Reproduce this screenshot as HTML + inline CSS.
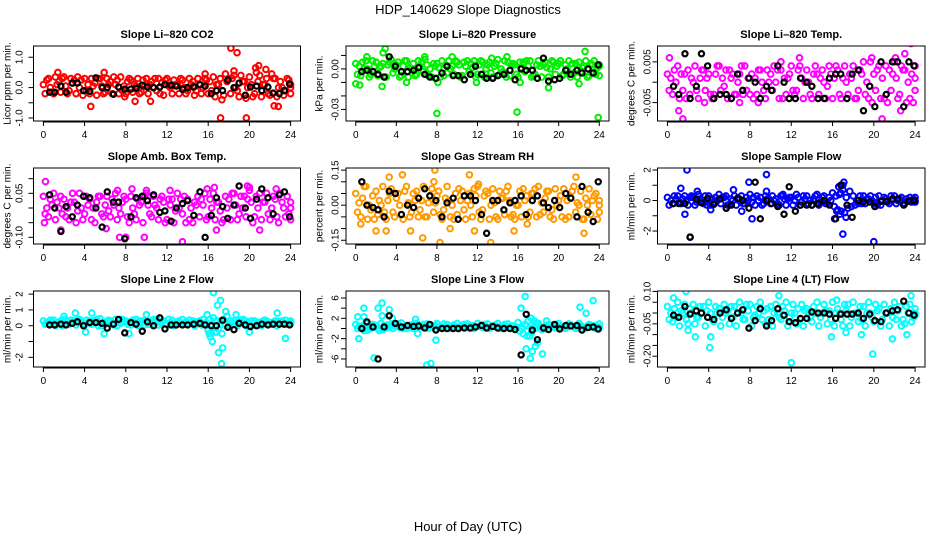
<!DOCTYPE html>
<html><head><meta charset="utf-8"><style>
html,body{margin:0;padding:0;background:#fff;}
svg{display:block;font-family:"Liberation Sans",Arial,sans-serif;}
</style></head><body>
<svg id="chart" width="936" height="540" viewBox="0 0 936 540">
<rect x="0" y="0" width="936" height="540" fill="#fff"/>
<text x="468" y="14" text-anchor="middle" font-size="13">HDP_140629  Slope Diagnostics</text>
<text x="468" y="531" text-anchor="middle" font-size="13">Hour of Day (UTC)</text>
</svg>
<script>
const HOURS = [0,0.5,1,1.5,2,2.5,3,3.5,4,4.5,5,5.5,6,6.5,7,7.5,8,8.5,9,9.5,10,10.5,11,11.5,12,12.5,13,13.5,14,14.5,15,15.5,16,16.5,17,17.5,18,18.5,19,19.5,20,20.5,21,21.5,22,22.5,23,23.5,24];
const BLACK_HOURS = [0.6,1.1,1.7,2.2,2.8,3.3,3.9,4.5,5.1,5.7,6.2,6.8,7.3,7.9,8.5,9.0,9.6,10.1,10.7,11.3,11.8,12.4,12.9,13.5,14.0,14.6,15.2,15.7,16.3,16.8,17.4,17.9,18.5,19.0,19.6,20.1,20.7,21.2,21.8,22.3,22.9,23.4,23.9];
const X_TICKS = [0,4,8,12,16,20,24];

// Panel 1: CO2
const co2A = [0.1,0.3,-0.2,0.2,0.35,-0.1,0.25,0.0,0.3,-0.2,0.15,0.3,-0.15,0.2,0.1,0.35,-0.2,0.25,0.05,-0.15,0.3,0.2,-0.1,0.15,0.3,-0.2,0.1,0.25,-0.1,0.2,0.3,0.0,-0.2,0.35,0.1,-0.25,0.3,0.4,-0.3,0.2,0.35,-0.2,0.4,0.1,-0.25,0.3,0.2,-0.1,0.1];
const co2B = [-0.2,0.0,0.35,-0.15,0.05,0.3,-0.2,0.25,-0.1,0.3,-0.25,0.05,0.3,-0.2,0.25,-0.1,0.2,-0.15,0.3,0.25,-0.2,0.0,0.3,-0.25,0.05,0.25,-0.2,0.0,0.3,-0.25,0.1,0.3,0.2,-0.3,0.3,0.45,-0.2,0.0,0.4,-0.35,0.1,0.5,-0.3,0.3,0.45,-0.3,0.0,0.3,-0.2];
const co2C = [0.25,-0.15,0.1,0.3,-0.2,0.15,0.35,-0.25,0.1,0.05,0.3,-0.2,0.1,0.35,-0.2,0.05,0.3,0.1,-0.2,0.05,0.1,0.3,-0.2,0.25,0.0,0.1,0.3,-0.2,0.1,-0.1,-0.2,0.25,-0.1,0.1,-0.4,0.2,0.3,-0.1,0.2,0.0,-0.3,0.2,0.1,-0.2,0.3,0.0,-0.25,0.25,0.0];
const co2OutH = [18.2,18.8,17.2,19.7,4.6,22.4,22.8,20.6,20.9,21.6,1.4,5.9,10.4,8.9,15.7,18.5,7.9];
const co2OutV = [1.3,1.15,-1.0,-1.0,-0.62,-0.6,-0.62,0.65,0.72,0.6,0.5,0.5,-0.45,-0.45,0.45,0.55,-0.3];
const co2Black = [-0.15,-0.15,0.05,-0.15,0.15,0.15,-0.1,-0.12,0.32,0.0,0.0,-0.22,0.02,-0.05,-0.05,-0.02,0.08,0.02,0.0,0.02,0.1,0.08,0.05,-0.05,0.0,0.02,0.1,0.05,-0.2,-0.1,-0.1,0.25,0.0,0.15,-0.25,0.02,0.05,-0.1,0.02,-0.18,-0.2,-0.1,0.12];
const co2Ticks = [-1,-0.5,0,0.5,1];
const co2TickLabels = ["-1.0","","0.0","","1.0"];

// Panel 2: Pressure
const presA = [0.004,-0.005,0.006,-0.004,0.005,0.002,-0.006,0.007,0.003,-0.005,0.006,0.0,-0.004,0.005,0.003,-0.006,0.004,0.006,-0.003,0.002,0.005,-0.005,0.006,0.001,-0.004,0.005,0.003,-0.006,0.007,-0.002,0.005,0.004,-0.006,0.005,0.002,-0.005,0.006,0.003,-0.006,0.005,0.004,-0.004,0.006,-0.003,0.005,0.002,-0.005,0.006,0.003];
const presB = [-0.004,0.005,0.0,0.006,-0.005,0.004,0.003,-0.003,0.005,0.002,-0.006,0.004,0.006,-0.002,-0.005,0.004,0.001,-0.005,0.006,-0.004,0.003,0.005,-0.002,0.006,0.003,-0.006,0.005,0.002,-0.004,0.006,-0.005,0.003,0.005,-0.002,0.006,-0.004,0.002,0.005,0.0,-0.004,0.006,0.003,-0.006,0.004,-0.002,0.006,0.004,-0.004,0.002];
const presC = [0.002,0.0,-0.006,0.002,0.001,-0.006,0.005,0.0,-0.006,0.006,0.001,-0.005,0.002,0.007,0.0,0.002,-0.006,0.003,0.0,0.006,-0.006,0.002,0.004,-0.006,0.006,0.0,-0.003,0.004,0.0,-0.006,0.003,-0.004,0.001,0.006,-0.006,0.003,-0.006,0.001,0.006,0.002,-0.005,0.0,0.004,-0.006,0.001,-0.006,0.003,0.001,-0.005];
const presOutH = [8.0,15.9,23.9,2.9,2.7,22.6,0.0,0.4,2.6,19.0,11.9,5.0,8.1,16.2,22.0,1.1,9.5,13.4,14.9,6.8];
const presOutV = [-0.033,-0.032,-0.036,0.015,0.012,0.013,-0.011,-0.012,-0.013,-0.014,-0.01,-0.01,-0.01,-0.01,-0.011,0.009,0.009,0.008,0.009,0.009];
const presBlack = [-0.002,-0.001,-0.002,-0.004,-0.006,0.009,0.002,-0.002,-0.002,-0.001,0.001,-0.004,-0.006,-0.007,-0.003,0.002,-0.005,-0.005,-0.008,-0.004,0.002,-0.004,-0.007,-0.007,-0.005,-0.004,-0.001,-0.008,0.0,-0.001,-0.001,-0.007,0.008,-0.009,-0.008,-0.007,-0.001,-0.004,-0.001,-0.003,0.0,-0.003,0.003];
const presTicks = [-0.03,-0.02,-0.01,0,0.01];
const presTickLabels = ["-0.03","","","0.00",""];

// Panel 3: Li-820 Temp
const tempA = [0.002,-0.003,0.004,-0.002,0.003,0.0,-0.004,0.003,0.002,-0.003,0.004,-0.001,0.003,-0.003,0.002,0.004,-0.003,0.001,0.003,-0.004,0.002,0.0,0.003,-0.003,0.004,-0.002,0.001,0.003,-0.004,0.002,0.003,-0.001,-0.004,0.003,0.001,-0.003,0.004,-0.002,0.005,-0.004,0.002,0.004,-0.004,0.003,0.005,-0.003,0.003,-0.004,0.004];
const tempB = [-0.002,0.003,-0.004,0.002,-0.003,0.004,0.001,-0.002,-0.003,0.002,-0.002,0.003,0.001,-0.003,0.004,-0.002,0.002,-0.003,0.0,0.003,-0.002,0.003,-0.004,0.001,-0.002,0.003,-0.004,0.0,0.002,-0.003,0.0,0.004,0.001,-0.003,0.004,0.002,-0.004,0.003,-0.003,0.005,-0.002,-0.004,0.004,-0.002,0.001,0.004,-0.005,0.002,-0.002];
const tempC = [0.001,0.0,0.002,-0.004,0.001,-0.002,0.003,0.001,-0.004,0.004,0.001,-0.004,0.002,0.0,-0.003,0.001,-0.004,0.003,-0.002,0.0,0.004,-0.004,0.001,0.002,-0.003,0.004,0.0,-0.003,0.004,0.001,-0.004,0.002,0.004,-0.004,0.0,0.001,-0.004,0.002,0.0,-0.005,0.003,0.001,-0.005,0.002,-0.004,0.003,0.0,-0.005,0.001];
const tempOutH = [0.2,1.1,1.5,23.6,23.5,20.8,22.1,23.0,12.8,7.0,3.6,8.8,22.6,19.8,11.0];
const tempOutV = [0.006,-0.007,-0.009,0.0095,-0.0115,-0.009,0.006,0.007,0.006,-0.005,-0.005,-0.005,-0.007,0.006,0.005];
const tempBlack = [-0.001,-0.003,0.007,-0.004,-0.001,0.007,0.004,-0.004,-0.003,-0.003,-0.004,0.002,-0.002,0.001,0.0,-0.004,-0.001,-0.002,0.004,0.0,-0.004,-0.004,0.001,0.0,-0.001,-0.004,-0.004,0.001,0.002,0.002,-0.004,0.002,0.003,-0.007,-0.001,-0.006,0.005,-0.003,0.005,0.005,-0.006,0.005,0.004];
const tempTicks = [-0.005,0,0.005];
const tempTickLabels = ["-0.005","","0.005"];

// Panel 4: Amb. Box Temp
const ambA = [0.04,-0.03,0.05,0.0,0.03,-0.04,0.02,0.05,-0.02,0.03,-0.05,0.04,0.01,-0.03,0.05,-0.02,0.03,0.04,-0.04,0.02,0.05,-0.03,0.0,0.04,-0.04,0.03,0.05,-0.02,0.03,-0.05,0.04,0.01,-0.03,0.05,0.02,-0.04,0.03,0.05,-0.02,0.04,0.06,-0.03,0.05,0.02,-0.04,0.03,0.05,-0.03,0.02];
const ambB = [-0.02,0.03,-0.04,0.04,-0.03,0.02,-0.05,0.0,0.04,-0.04,0.02,-0.02,0.04,0.03,-0.04,0.02,-0.03,0.0,0.03,-0.05,0.01,0.04,-0.04,0.02,0.03,-0.05,0.0,0.04,-0.04,0.02,-0.03,0.05,0.03,-0.04,-0.01,0.04,-0.04,0.01,0.04,-0.03,0.02,0.04,-0.04,0.05,0.0,-0.03,0.02,0.04,-0.04];
const ambC = [0.0,0.01,0.02,-0.02,0.0,0.05,-0.01,-0.04,0.01,0.0,0.04,-0.03,-0.01,0.01,0.0,0.04,-0.05,-0.02,0.01,0.04,-0.02,0.01,0.03,-0.05,0.01,-0.01,0.03,-0.05,0.0,0.01,0.03,-0.04,0.0,0.02,-0.05,0.0,0.05,-0.04,0.0,0.03,-0.05,0.0,0.02,-0.02,0.04,-0.05,0.0,-0.02,0.0];
const ambOutH = [0.2,13.5,1.7,6.1,7.4,8.0,9.8,16.8,21.0,0.1,19.8,20.0,22.6,8.6,15.9,16.6,12.3,7.2,10.0];
const ambOutV = [0.09,-0.115,-0.075,-0.07,-0.1,-0.1,-0.1,-0.075,-0.075,-0.05,0.075,0.07,0.065,0.065,0.065,0.07,0.06,0.06,0.06];
const ambBlack = [0.045,0.0,-0.08,0.005,-0.03,0.01,0.04,0.035,0.0,-0.065,0.055,0.02,0.02,-0.105,-0.03,0.035,0.04,0.025,0.045,-0.015,-0.01,-0.045,0.0,0.015,0.025,-0.025,0.055,-0.1,-0.025,0.035,0.005,-0.035,0.01,0.075,0.0,-0.035,0.03,0.065,0.035,-0.02,0.045,0.055,-0.03];
const ambTicks = [-0.10,-0.05,0,0.05,0.10];
const ambTickLabels = ["-0.10","","","0.05",""];

// Panel 5: Gas Stream RH
const rhA = [0.05,-0.05,0.08,-0.02,0.06,0.0,-0.06,0.07,0.03,-0.04,0.08,-0.03,0.06,0.02,-0.05,0.07,0.04,-0.06,0.08,0.0,-0.04,0.06,0.02,-0.05,0.08,-0.02,0.05,0.07,-0.06,0.03,0.08,-0.04,0.0,0.07,-0.05,0.05,0.08,-0.03,0.06,-0.06,0.02,0.07,-0.05,0.08,0.0,-0.06,0.07,0.04,-0.03];
const rhB = [-0.03,0.03,-0.06,0.04,-0.04,0.08,0.02,-0.03,0.05,-0.06,0.01,0.05,-0.05,0.08,0.01,-0.03,0.06,-0.02,0.02,-0.06,0.07,-0.02,0.05,0.07,-0.03,0.04,-0.06,0.01,0.06,-0.04,0.02,-0.06,0.06,0.02,-0.03,0.07,-0.04,0.03,-0.05,0.07,0.04,-0.06,0.03,-0.03,0.06,0.03,-0.04,0.05,0.0];
const rhC = [0.01,0.08,0.0,-0.06,0.02,-0.03,0.05,-0.05,0.0,0.06,-0.05,0.02,-0.02,-0.05,0.04,0.01,-0.04,0.03,-0.05,0.05,0.02,-0.06,0.0,0.04,-0.06,0.06,0.0,-0.05,0.03,0.06,-0.05,0.0,-0.05,0.04,0.05,-0.05,0.01,0.06,-0.02,0.0,-0.05,0.02,0.06,0.01,-0.06,0.0,0.02,-0.06,0.02];
const rhOutH = [13.3,8.3,6.6,7.8,7.7,11.2,4.6,3.3,21.7,9.3,2.0,3.0,5.4,11.7,15.6,22.5,0.5,12.1,16.9];
const rhOutV = [-0.16,-0.16,-0.14,0.15,0.1,0.13,0.13,0.12,0.12,-0.1,-0.11,-0.11,-0.11,-0.11,-0.11,-0.12,-0.08,0.09,-0.08];
const rhBlack = [0.10,0.0,-0.01,-0.02,-0.05,0.06,0.05,-0.04,0.0,-0.01,0.03,0.07,0.04,0.02,-0.05,0.01,0.03,-0.06,0.04,0.04,0.02,-0.04,-0.12,0.02,0.02,-0.02,0.01,0.02,0.04,-0.04,0.02,0.04,0.01,-0.01,0.02,-0.01,0.05,0.03,-0.05,0.08,-0.03,-0.07,0.10];
const rhTicks = [-0.15,-0.10,-0.05,0,0.05,0.10,0.15];
const rhTickLabels = ["-0.15","","","0.00","","","0.15"];

// Panel 6: Sample Flow
const sfA = [0.2,-0.2,0.3,0.1,-0.3,0.2,0.4,-0.2,0.3,-0.1,0.4,0.2,-0.3,0.3,0.1,-0.2,0.4,-0.3,0.2,0.3,-0.2,0.1,0.3,-0.3,0.2,0.4,-0.1,0.3,-0.3,0.4,0.2,-0.2,0.5,-0.6,0.7,-0.5,0.3,-0.2,0.3,0.1,-0.2,0.3,0.2,-0.2,0.3,0.1,-0.2,0.2,0.0];
const sfB = [-0.3,0.3,-0.1,0.3,0.2,-0.3,0.1,0.3,-0.3,0.2,-0.2,0.3,0.1,-0.3,0.3,0.2,-0.1,0.3,-0.3,0.1,0.3,-0.2,0.3,0.1,-0.3,0.2,0.3,-0.2,0.1,-0.3,0.3,0.2,-0.4,0.4,-0.8,0.6,-0.3,0.3,-0.2,0.3,0.2,-0.3,0.1,0.3,-0.2,0.2,0.1,-0.1,0.2];
const sfC = [0.0,0.1,-0.2,0.0,0.3,-0.1,0.0,-0.3,0.1,0.0,0.2,-0.3,0.0,0.1,-0.2,0.0,0.2,0.0,-0.2,0.1,0.0,-0.3,0.1,0.2,0.0,-0.3,0.1,0.0,0.3,-0.1,-0.2,0.0,0.3,-0.7,0.2,-0.4,0.0,-0.2,0.1,0.0,-0.3,0.0,-0.1,0.1,0.0,-0.2,0.0,0.1,-0.1];
const sfOutH = [1.9,2.2,20.0,17.0,9.6,7.9,17.1,17.0,1.7,8.2,16.2,17.3,1.3,6.4,2.9,9.6,16.6,16.8,16.4,16.7,5.7,4.2,7.2,11.2];
const sfOutV = [2.0,-2.4,-2.7,-2.2,1.7,1.2,1.2,1.0,-0.9,-1.2,-1.2,-1.1,0.8,0.7,0.6,0.6,0.9,0.5,-0.7,-0.9,-0.5,-0.6,-0.7,0.4];
const sfBlack = [-0.2,-0.2,-0.2,-2.4,0.1,-0.15,0.15,-0.25,0.1,-0.5,-0.3,0.15,0.0,-0.5,1.2,-1.2,0.0,-0.2,-0.4,-0.9,0.9,-0.7,-0.3,-0.3,-0.3,-0.2,0.0,-0.3,-1.2,1.0,-0.3,-1.1,0.0,-0.1,-0.1,-0.4,-0.05,-0.05,0.1,0.1,-0.3,-0.05,0.0];
const sfTicks = [-2,-1,0,1,2];
const sfTickLabels = ["-2","","0","","2"];

// Panel 7: Line 2 Flow
const l2A = [0.3,0.1,0.35,0.2,0.4,0.1,0.3,0.4,0.05,0.3,0.2,0.45,0.1,0.3,0.4,0.15,0.3,0.05,0.4,0.2,0.3,0.1,0.4,0.25,0.05,0.35,0.2,0.4,0.1,0.3,0.2,0.4,-0.3,0.5,-0.2,0.4,0.1,0.3,0.2,0.35,0.05,0.3,0.2,0.35,0.1,0.3,0.2,0.35,0.2];
const l2B = [0.1,0.35,0.0,0.3,0.15,0.35,0.05,0.2,0.35,0.1,0.4,0.0,0.3,0.2,0.0,0.4,0.1,0.35,0.0,0.3,0.1,0.4,0.05,0.3,0.4,0.0,0.3,0.1,0.35,0.0,0.3,0.1,0.4,-0.4,0.3,0.0,0.3,0.1,0.35,0.0,0.3,0.1,0.0,0.3,0.2,0.0,0.3,0.1,0.3];
const l2C = [0.2,0.25,0.15,0.0,0.3,0.2,0.35,0.1,0.2,0.3,0.0,0.2,0.35,0.05,0.2,0.3,0.2,0.2,0.3,0.05,0.2,0.3,0.2,0.1,0.2,0.2,0.1,0.25,0.2,0.25,0.05,0.2,0.1,0.3,-0.5,0.6,0.2,0.0,0.2,0.25,0.2,0.2,0.3,0.1,0.2,0.25,0.1,0.2,0.1];
const l2OutH = [16.5,17.2,16.9,17.7,16.2,16.4,16.1,17.0,17.4,17.3,16.8,15.9,18.7,23.5,22.7,20.0,5.9,3.1,4.7,2.0,10.0,4.1,8.3,19.4];
const l2OutV = [2.1,1.6,1.3,0.9,-0.7,-1.0,-0.5,-1.7,-1.4,-2.4,-0.4,0.7,0.7,-0.8,0.8,-0.4,-0.5,0.8,0.8,0.6,0.7,-0.4,-0.5,0.4];
const l2Black = [0.05,0.05,0.1,0.05,0.15,0.25,0.0,0.2,0.2,0.15,-0.15,0.1,0.4,-0.45,0.2,0.1,-0.35,0.25,0.0,0.5,-0.2,0.05,0.05,0.05,0.05,0.1,0.15,0.05,0.0,0.0,0.35,-0.1,-0.25,0.15,0.05,-0.05,0.0,0.1,0.05,0.1,0.1,0.1,0.05];
const l2Ticks = [-2,-1,0,1,2];
const l2TickLabels = ["-2","","0","1","2"];

// Panel 8: Line 3 Flow
const l3A = [0.8,0.2,1.0,0.0,0.6,1.0,0.1,0.8,0.4,1.1,0.0,0.7,1.0,0.3,0.9,0.5,1.0,0.2,0.8,0.4,1.0,0.3,0.9,0.5,1.0,0.2,0.9,0.4,1.0,0.3,0.9,0.5,1.2,-1.0,1.5,0.3,1.0,0.2,0.8,0.4,1.0,0.3,0.9,0.4,1.0,0.2,0.8,0.5,0.9];
const l3B = [0.0,0.5,-0.3,0.8,0.0,-0.2,0.7,0.0,0.9,0.0,0.6,0.0,0.2,0.8,0.0,0.3,0.2,0.9,0.0,0.7,0.0,0.8,0.1,0.0,0.4,0.8,0.0,0.6,0.0,0.8,0.1,0.0,-0.5,0.8,-1.5,0.0,0.5,0.0,0.7,0.1,0.5,0.0,0.7,0.0,0.5,0.1,0.6,0.0,0.3];
const l3C = [0.4,-0.4,0.5,0.3,-0.4,0.6,0.3,0.5,0.2,0.4,0.3,0.5,0.4,0.2,0.5,0.6,0.3,0.5,0.4,0.2,0.5,0.4,0.6,0.3,0.5,0.4,0.3,0.5,0.4,0.2,0.5,0.3,0.0,0.5,-0.8,1.0,-0.2,0.4,0.3,0.5,0.2,0.4,0.5,0.3,0.4,0.5,0.3,0.4,0.3];
const l3OutH = [16.7,23.4,22.1,22.7,16.3,0.8,2.2,2.6,3.3,0.2,0.8,2.6,3.6,5.9,17.3,17.6,18.8,0.3,7.9,1.8,7.0,7.4,17.2,18.4,16.8,17.4,17.7,17.9,16.9,6.1];
const l3OutV = [6.3,5.5,4.2,3.0,4.0,4.0,4.0,5.0,3.7,2.3,2.3,2.5,2.0,1.8,2.0,1.5,1.5,-2.0,-2.3,-5.8,-7.2,-6.9,-5.9,-5.0,-4.0,-4.5,-3.5,-2.8,-1.5,-1.0];
const l3Black = [0.0,1.3,0.3,-6.0,0.3,2.5,1.0,0.3,0.6,0.4,0.5,0.1,0.8,-0.3,0.0,0.0,0.0,0.0,0.1,0.1,0.3,0.6,0.1,0.4,0.1,0.0,0.0,-0.2,-5.2,2.8,-0.3,-2.2,0.1,-0.2,0.8,-0.1,0.6,0.5,0.6,-0.3,0.2,0.3,-0.1];
const l3Ticks = [-6,-4,-2,0,2,4,6];
const l3TickLabels = ["-6","","-2","","2","","6"];

// Panel 9: Line 4 (LT) Flow
const l4A = [0.03,-0.04,0.05,0.0,-0.05,0.04,-0.02,0.03,0.05,-0.04,0.02,0.04,-0.05,0.03,0.05,-0.03,0.04,-0.01,0.05,-0.05,0.03,0.04,-0.03,0.05,0.0,-0.05,0.04,0.02,-0.04,0.05,0.0,-0.05,0.05,0.02,-0.06,0.04,0.05,-0.04,0.03,0.05,-0.04,0.02,0.04,-0.06,0.05,0.03,-0.05,0.04,0.02];
const l4B = [-0.03,0.02,-0.06,0.04,0.02,-0.05,0.03,-0.06,0.0,0.03,-0.06,0.0,0.03,-0.06,0.0,0.04,-0.06,0.03,-0.03,0.02,-0.06,0.0,0.03,-0.06,0.04,0.02,-0.06,0.0,0.03,-0.06,0.04,0.01,-0.06,0.0,0.04,-0.06,0.0,0.03,-0.06,0.0,0.04,-0.06,0.0,0.02,-0.03,-0.06,0.03,-0.04,-0.01];
const l4C = [0.0,-0.02,0.01,-0.03,0.0,-0.02,0.0,0.01,-0.03,0.0,-0.02,0.01,-0.02,0.0,-0.03,0.01,-0.02,0.0,0.01,-0.03,0.0,-0.02,0.01,-0.02,0.0,-0.03,0.01,-0.02,0.0,-0.02,0.01,-0.03,0.0,-0.03,0.01,-0.02,0.0,-0.03,0.0,-0.02,0.01,-0.03,0.0,-0.02,0.01,-0.03,0.0,-0.02,0.0];
const l4OutH = [4.1,12.0,19.9,1.8,23.6,10.8,0.6,16.4,2.7,4.2,15.9,21.8,23.2,17.3,18.8,2.0];
const l4OutV = [-0.16,-0.23,-0.19,0.1,0.08,0.08,0.07,0.06,-0.11,-0.11,-0.11,-0.12,-0.1,-0.09,-0.1,-0.08];
const l4Black = [-0.01,-0.02,0.03,-0.005,0.01,0.0,-0.02,-0.03,0.0,0.015,-0.025,0.0,0.015,-0.07,-0.035,0.02,-0.06,-0.035,0.02,-0.01,-0.04,-0.045,-0.025,-0.025,0.005,0.0,0.0,-0.005,-0.025,-0.005,-0.005,-0.005,0.0,-0.025,-0.005,-0.035,-0.04,0.0,0.01,0.015,0.055,0.0,-0.01];
const l4Ticks = [-0.20,-0.15,-0.10,-0.05,0,0.05,0.10];
const l4TickLabels = ["-0.20","","","-0.05","","","0.10"];

const svg = document.getElementById('chart');
const NS = 'http://www.w3.org/2000/svg';
function mk(tag, attrs, parent) {
  const e = document.createElementNS(NS, tag);
  for (const k in attrs) e.setAttribute(k, attrs[k]);
  parent.appendChild(e);
  return e;
}

const COLS = [{l:33.5,r:300.5},{l:346,r:609},{l:657.5,r:925}];
const ROWS = [{t:46,b:121},{t:168,b:244},{t:291,b:367}];
const AXT = [{title:8,lab:20},{title:320,lab:336},{title:632,lab:648}];

const panels = [
 {key:'co2',title:'Slope Li\u2013820 CO2',ylab:'Licor ppm per min.',color:'#ff0000',A:co2A,B:co2B,C:co2C,oh:co2OutH,ov:co2OutV,blk:co2Black,ticks:co2Ticks,labs:co2TickLabels,ymin:-1.1,ymax:1.37},
 {key:'pressure',title:'Slope Li\u2013820 Pressure',ylab:'kPa per min.',color:'#00ee00',A:presA,B:presB,C:presC,oh:presOutH,ov:presOutV,blk:presBlack,ticks:presTicks,labs:presTickLabels,ymin:-0.0386,ymax:0.017},
 {key:'li820-temp',title:'Slope Li\u2013820 Temp.',ylab:'degrees C per min.',color:'#ff00ff',A:tempA,B:tempB,C:tempC,oh:tempOutH,ov:tempOutV,blk:tempBlack,ticks:tempTicks,labs:tempTickLabels,ymin:-0.00952,ymax:0.00889},
 {key:'amb-box-temp',title:'Slope Amb. Box Temp.',ylab:'degrees C per min.',color:'#ff00ff',A:ambA,B:ambB,C:ambC,oh:ambOutH,ov:ambOutV,blk:ambBlack,ticks:ambTicks,labs:ambTickLabels,ymin:-0.1227,ymax:0.1363},
 {key:'gas-stream-rh',title:'Slope Gas Stream RH',ylab:'percent per min.',color:'#ff9900',A:rhA,B:rhB,C:rhC,oh:rhOutH,ov:rhOutV,blk:rhBlack,ticks:rhTicks,labs:rhTickLabels,ymin:-0.166,ymax:0.159},
 {key:'sample-flow',title:'Slope Sample Flow',ylab:'ml/min per min.',color:'#0000ff',A:sfA,B:sfB,C:sfC,oh:sfOutH,ov:sfOutV,blk:sfBlack,ticks:sfTicks,labs:sfTickLabels,ymin:-2.85,ymax:2.13},
 {key:'line2-flow',title:'Slope Line 2 Flow',ylab:'ml/min per min.',color:'#00ffff',A:l2A,B:l2B,C:l2C,oh:l2OutH,ov:l2OutV,blk:l2Black,ticks:l2Ticks,labs:l2TickLabels,ymin:-2.61,ymax:2.196},
 {key:'line3-flow',title:'Slope Line 3 Flow',ylab:'ml/min per min.',color:'#00ffff',A:l3A,B:l3B,C:l3C,oh:l3OutH,ov:l3OutV,blk:l3Black,ticks:l3Ticks,labs:l3TickLabels,ymin:-7.58,ymax:7.38},
 {key:'line4-flow',title:'Slope Line 4 (LT) Flow',ylab:'ml/min per min.',color:'#00ffff',A:l4A,B:l4B,C:l4C,oh:l4OutH,ov:l4OutV,blk:l4Black,ticks:l4Ticks,labs:l4TickLabels,ymin:-0.25,ymax:0.102}
];

panels.forEach((p, i) => {
  const col = COLS[i % 3], row = ROWS[Math.floor(i / 3)], at = AXT[i % 3];
  const g = mk('g', {}, svg);
  
  
  const xs = h => col.l + (h + 0.96) / 25.92 * (col.r - col.l);
  const ys = v => row.b - (v - p.ymin) / (p.ymax - p.ymin) * (row.b - row.t);
  const cx = (row.t + row.b) / 2;

  const t = mk('text', {x:(col.l + col.r) / 2, y:row.t - 8, 'text-anchor':'middle', 'font-size':'11', 'font-weight':'bold'}, g);
  t.textContent = p.title;
  
  

  const yl = mk('text', {x:at.title, y:cx, 'text-anchor':'middle', 'font-size':'10', transform:'rotate(-90 ' + at.title + ' ' + cx + ')', 'dominant-baseline':'central'}, g);
  yl.textContent = p.ylab;
  
  

  const clip = mk('clipPath', {id:'clip' + i}, g);
  mk('rect', {x:col.l, y:row.t, width:col.r - col.l, height:row.b - row.t}, clip);
  const pts = mk('g', {'clip-path':'url(#clip' + i + ')', fill:'none', 'stroke-width':'2'}, g);
  
  

  const offs = [0, 0.17, 0.33];
  [p.A, p.B, p.C].forEach((arr, k) => {
    arr.forEach((v, j) => {
      const h = Math.min(24, HOURS[j] + offs[k]);
      const c = mk('circle', {cx:xs(h), cy:ys(v), r:2.8, stroke:p.color}, pts);
      
      
    });
  });
  p.oh.forEach((h, j) => {
    const c = mk('circle', {cx:xs(h), cy:ys(p.ov[j]), r:2.8, stroke:p.color}, pts);
    
    
  });
  p.blk.forEach((v, j) => {
    const c = mk('circle', {cx:xs(BLACK_HOURS[j]), cy:ys(v), r:2.6, stroke:'#000', 'stroke-width':'2.2'}, pts);
    
    
  });

  const box = mk('rect', {x:col.l, y:row.t, width:col.r - col.l, height:row.b - row.t, fill:'none', stroke:'#000', 'stroke-width':'1'}, g);
  
  

  const xa = mk('line', {x1:xs(0), x2:xs(24), y1:row.b + 1, y2:row.b + 1, stroke:'#000'}, g);
  
  
  X_TICKS.forEach(h => {
    const tk = mk('line', {x1:xs(h), x2:xs(h), y1:row.b, y2:row.b + 5, stroke:'#000'}, g);
    
    
    const tl = mk('text', {x:xs(h), y:row.b + 17, 'text-anchor':'middle', 'font-size':'10'}, g);
    tl.textContent = String(h);
    
    
  });

  p.ticks.forEach((v, j) => {
    const y = ys(v);
    const tk = mk('line', {x1:col.l - 5, x2:col.l, y1:y, y2:y, stroke:'#000'}, g);
    
    
    if (p.labs[j]) {
      const tl = mk('text', {x:at.lab, y:y, 'text-anchor':'middle', 'font-size':'10', 'dominant-baseline':'central', transform:'rotate(-90 ' + at.lab + ' ' + y + ')'}, g);
      tl.textContent = p.labs[j];
      
      
    }
  });
  const ya = mk('line', {x1:col.l, x2:col.l, y1:ys(p.ticks[0]), y2:ys(p.ticks[p.ticks.length - 1]), stroke:'#000'}, g);
  
  
});
</script>
</body></html>
